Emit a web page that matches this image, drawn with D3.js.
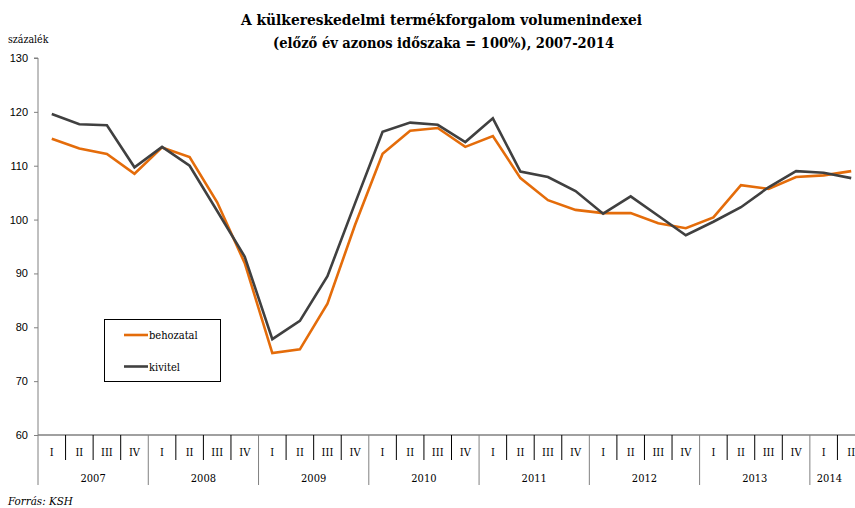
<!DOCTYPE html>
<html><head><meta charset="utf-8">
<script src="https://cdn.jsdelivr.net/npm/d3@7"></script>
<style>
body{margin:0;background:#fff;overflow:hidden}
svg{display:block;font-family:"DejaVu Serif Condensed","DejaVu Serif","Liberation Serif",serif}
</style></head><body>
<svg id="c" width="855" height="508"></svg>
<script>
const years = ["2007","2008","2009","2010","2011","2012","2013","2014"];
const quarters = ["I","II","III","IV"];
const behozatal = [115.0,113.2,112.2,108.5, 113.4,111.6,103.2,91.9, 75.2,75.9,84.4,99.0, 112.2,116.5,117.0,113.5, 115.5,107.7,103.6,101.8, 101.2,101.2,99.3,98.4, 100.4,106.4,105.7,107.9, 108.2,109.0];
const kivitel = [119.6,117.7,117.5,109.7, 113.5,110.0,101.6,93.1, 77.8,81.2,89.5,103.0, 116.3,118.0,117.6,114.4, 118.8,108.9,107.9,105.3, 101.1,104.3,100.7,97.1, 99.6,102.3,106.0,109.0, 108.7,107.7];
const yTicks = [60,70,80,90,100,110,120,130];
const seriesNames = ["behozatal","kivitel"];
const colors = ["#E46C0A","#404040"];

const cats = [];
years.forEach(yr => quarters.forEach(q => { if (cats.length < behozatal.length) cats.push({year:yr, q:q, key:yr+"-"+q}); }));

const svg = d3.select("#c");
const mLeft = 38, mRight = 865, mTop = 58, mBottom = 435;
const x = d3.scaleBand().domain(cats.map(d=>d.key)).range([mLeft,mRight]).paddingInner(0).paddingOuter(0);
const y = d3.scaleLinear().domain([60,130]).range([mBottom,mTop]);

// title
const t = svg.append("text").attr("text-anchor","middle").attr("font-weight","bold").attr("font-size",15).attr("fill","#000");
t.append("tspan").attr("x",441.5).attr("y",25).attr("textLength",401).attr("lengthAdjust","spacingAndGlyphs").text("A külkereskedelmi termékforgalom volumenindexei");
t.append("tspan").attr("x",443.5).attr("y",48).attr("textLength",341).attr("lengthAdjust","spacingAndGlyphs").text("(előző év azonos időszaka = 100%), 2007-2014");

svg.append("text").attr("x",8).attr("y",43).attr("font-size",10.5).text("százalék");

// y axis
const ya = svg.append("g").attr("transform",`translate(${mLeft},0)`)
  .call(d3.axisLeft(y).tickValues(yTicks).tickSize(4).tickPadding(6));
ya.selectAll("path").attr("stroke","#808080");
ya.selectAll("line").attr("stroke","#808080");
ya.selectAll("text").attr("font-size",11).attr("font-family",null).attr("fill","#000");
ya.select(".domain").attr("d",`M-4,${mTop}H0V${mBottom}`);

// x axis baseline
svg.append("line").attr("x1",mLeft).attr("x2",mRight).attr("y1",mBottom).attr("y2",mBottom).attr("stroke","#808080").attr("stroke-width",1.3);

// quarter separators and labels
const xg = svg.append("g");
cats.forEach((d,i) => {
  const x0 = x(d.key);
  const isYear = d.q === "I";
  xg.append("line").attr("x1",x0).attr("x2",x0).attr("y1",mBottom).attr("y2", isYear ? 485 : 460)
    .attr("stroke", isYear ? "#808080" : "#000").attr("stroke-width",1);
  xg.append("text").attr("x",x0 + x.bandwidth()/2).attr("y",456).attr("text-anchor","middle")
    .attr("font-size",11).text(d.q);
});
years.forEach(yr => {
  const ks = cats.filter(c=>c.year===yr);
  const x0 = x(ks[0].key), x1 = x(ks[ks.length-1].key) + x.bandwidth();
  const xc = yr === "2014" ? (x0 + 851)/2 - 1 : (x0+x1)/2;
  xg.append("text").attr("x",xc).attr("y",482).attr("text-anchor","middle").attr("font-size",11).text(yr);
});

// lines
const line = d3.line().x((d,i)=>x(cats[i].key)+x.bandwidth()/2).y(d=>y(d));
[behozatal,kivitel].forEach((s,k) => {
  svg.append("path").datum(s).attr("d",line).attr("fill","none").attr("stroke",colors[k])
    .attr("stroke-width",2.6).attr("stroke-linejoin","miter");
});

// legend
const lg = svg.append("g");
lg.append("rect").attr("x",104.5).attr("y",319.5).attr("width",116).attr("height",62).attr("fill","#fff").attr("stroke","#000").attr("stroke-width",1);
seriesNames.forEach((n,i) => {
  const yy = 335 + i*31.5;
  lg.append("line").attr("x1",124).attr("x2",148).attr("y1",yy).attr("y2",yy).attr("stroke",colors[i]).attr("stroke-width",2.6);
  lg.append("text").attr("x",149).attr("y",yy+4).attr("font-size",11).text(n);
});

svg.append("text").attr("x",8).attr("y",505).attr("font-size",11.5).attr("font-style","italic").text("Forrás: KSH");
</script>
</body></html>
